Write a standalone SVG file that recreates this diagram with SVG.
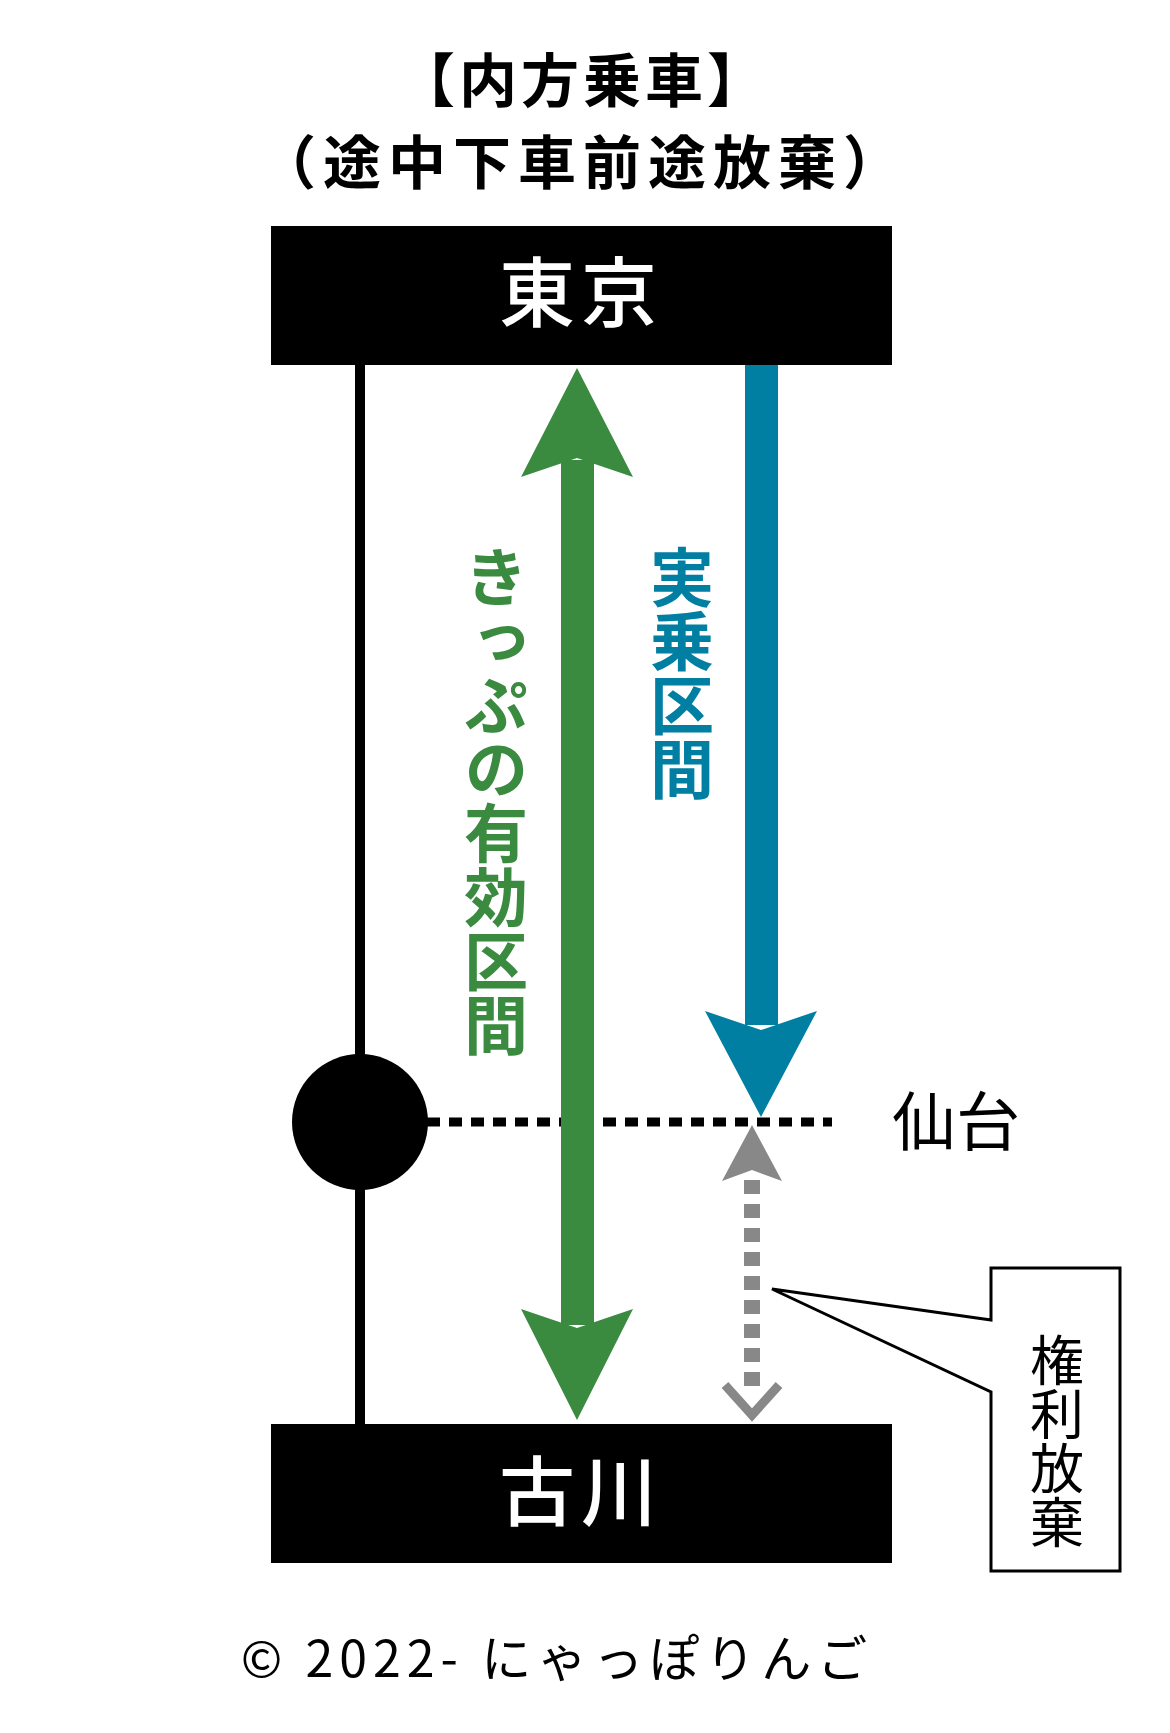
<svg xmlns="http://www.w3.org/2000/svg" width="1170" height="1733" viewBox="0 0 1170 1733">
<style>
.t{font-family:"Noto Sans CJK JP","Noto Sans",sans-serif;}
.b{font-weight:bold;}
.v{writing-mode:vertical-rl;}
</style>
<rect width="1170" height="1733" fill="#fff"/>
<g id="title">
<text class="t b" x="583" y="102" font-size="58" text-anchor="middle" letter-spacing="4">【内方乗車】</text>
<text class="t b" x="583" y="184" font-size="58" text-anchor="middle" letter-spacing="7">（途中下車前途放棄）</text>
</g>
<g id="connectors">
<line x1="360" y1="365" x2="360" y2="1424" stroke="#000" stroke-width="10"/>
<line x1="427" y1="1122" x2="832" y2="1122" stroke="#000" stroke-width="9" stroke-dasharray="13 9"/>
<g id="green-arrow" fill="#3A8A40">
<rect x="561" y="460" width="33" height="865"/>
<polygon points="577,368 633,477 577,458 521,477"/>
<polygon points="577,1420 633,1309 577,1328 521,1309"/>
</g>
<g id="blue-arrow" fill="#007FA3">
<rect x="745" y="365" width="33" height="660"/>
<polygon points="761,1117 817,1011 761,1030 705,1011"/>
</g>
<g id="gray-arrow">
<line x1="752" y1="1180" x2="752" y2="1390" stroke="#888" stroke-width="16" stroke-dasharray="14 10"/>
<polygon points="752,1125 782,1181 752,1170 722,1181" fill="#888"/>
<polyline points="725,1385 752,1415 779,1385" fill="none" stroke="#888" stroke-width="9"/>
</g>
</g>
<g id="tokyo">
<rect x="271" y="226" width="621" height="139" fill="#000"/>
<text class="t" x="581" y="321" font-size="76" font-weight="500" fill="#fff" text-anchor="middle" letter-spacing="6">東京</text>
</g>
<g id="furukawa">
<rect x="271" y="1424" width="621" height="139" fill="#000"/>
<text class="t" x="581" y="1520" font-size="76" font-weight="500" fill="#fff" text-anchor="middle" letter-spacing="6">古川</text>
</g>
<g id="sendai">
<circle cx="360" cy="1122" r="68" fill="#000"/>
<text class="t" x="892" y="1145" font-size="64">仙台</text>
</g>
<g id="valid-label">
<text class="t b v" x="496" y="545" font-size="64" fill="#3A8A40">きっぷの有効区間</text>
</g>
<g id="ride-label">
<text class="t b v" x="682" y="545" font-size="64" fill="#007FA3">実乗区間</text>
</g>
<g id="callout">
<path d="M991,1320 L991,1268 L1120,1268 L1120,1571 L991,1571 L991,1392 L772,1289 Z" fill="#fff" stroke="#000" stroke-width="3"/>
<text class="t v" x="1057" y="1333" font-size="54">権利放棄</text>
</g>
<g id="footer">
<text class="t" x="557" y="1677" font-size="50" text-anchor="middle" letter-spacing="6">© 2022- にゃっぽりんご</text>
</g>
</svg>
